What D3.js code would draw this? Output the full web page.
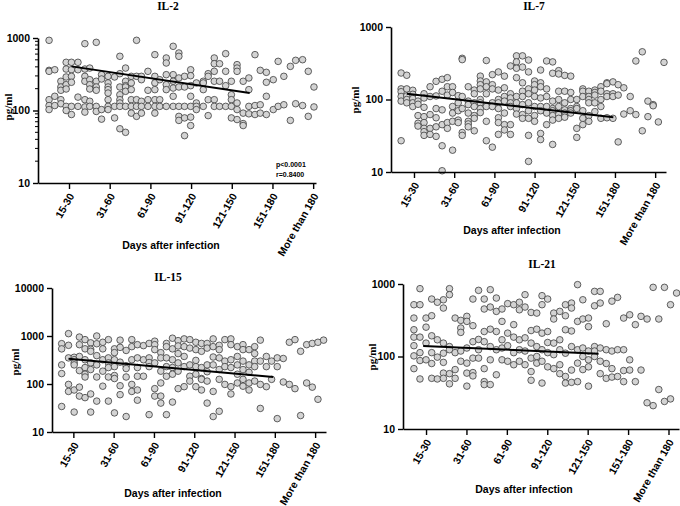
<!DOCTYPE html>
<html><head><meta charset="utf-8">
<script src="https://cdn.jsdelivr.net/npm/d3@7"></script>
<style>body{margin:0;background:#fff}svg{display:block}</style>
</head><body>
<svg id="c" width="680" height="506"></svg>
<script>
const xLabels = ["15-30","31-60","61-90","91-120","121-150","151-180","More than 180"];
const xTickPos = [1,2,3,4,5,6,7];

// [x position (category units), [pg/ml values...]]
const il2Cols = [
[0.51,[929,358,347,141,117,103]],[0.65,[365,157,117]],[0.80,[253,211,190,141,124]],
[0.93,[462,373,290,227,198,114,100]],[1.06,[462,365,296,245,114,88]],[1.22,[462,365,153,114]],
[1.39,[835,373,296,253,141,112,95]],[1.51,[385,266,227,198,134,114]],[1.67,[871,253,211,190,114,97]],
[1.80,[312,272,103,76]],[1.96,[296,240,211,194,174,141,114,103]],[2.12,[290,114,79]],
[2.25,[559,322,211,165,141,127,114,56]],[2.39,[385,253,220,211,184,114,50]],[2.53,[296,240,194,141,114,92]],
[2.66,[929,296,141,114,83]],[2.78,[296,266,134,114,92]],[2.94,[347,190,141,114]],
[3.11,[589,296,240,194,141,114,92]],[3.23,[266,141,114]],[3.39,[530,452,312,227,194,114]],
[3.56,[768,312,253,204,157,114]],[3.70,[621,559,281,211,114,83,73]],[3.84,[296,211,114,79,45]],
[3.99,[365,302,220,157,114,81,62]],[4.13,[240,127,114,103]],[4.30,[253,240,194,114]],
[4.42,[322,296,141,85]],[4.57,[530,442,347,253,141,114]],[4.70,[442,253,114]],
[4.85,[608,347,220,114]],[4.99,[253,165,141,114,79]],[5.13,[429,385,347,127,103,75]],
[5.28,[253,92,66,62]],[5.42,[281,194,114,90]],[5.57,[589,117,88]],[5.70,[358,120,92]],
[5.85,[336,245,157,88]],[6.02,[266,103]],[6.14,[476,114]],[6.28,[296,120]],[6.44,[406,73]],
[6.57,[492,124]],[6.74,[502,117]],[6.88,[347,83]],[7.02,[211,112]]
];
const il7Cols = [
[0.68,[232,140,128,110,95,27]],[0.82,[216,140,112,100,90]],[0.97,[134,118,103,90,80]],
[1.10,[95,86,60,47,43]],[1.25,[120,105,78,58,48,40,36,32]],[1.40,[150,110,62,40,33]],
[1.55,[178,112,75,56,42,31]],[1.70,[190,130,72,45,23,10.4]],[1.83,[200,150,115,48,40]],
[1.96,[150,125,80,65,50,20]],[2.10,[113,90,70,52,48]],[2.20,[370,355,110,75,35,32]],
[2.35,[150,95,85,65,50,46,42]],[2.50,[135,120,90,80,60,55,37]],[2.65,[210,180,160,140,100,90,75,66]],
[2.80,[345,175,150,120,80,50,27]],[2.95,[220,160,140,90,80,22]],[3.10,[240,135,100,90,75,56,48,33]],
[3.25,[210,145,110,95,65,45,38]],[3.40,[290,120,105,90,80,45,33]],[3.55,[400,330,270,200,110,90,75,63]],
[3.70,[400,280,170,130,110,85,62,55]],[3.85,[350,240,140,120,90,70,55,32,14]],[4.00,[180,160,135,110,80,60,50]],
[4.15,[255,170,150,105,80,70,34,28]],[4.30,[340,140,110,80,65,45]],[4.45,[330,230,95,75,70,60,52,24]],
[4.60,[250,225,130,100,80,62,55]],[4.75,[215,130,90,72,65,60,57]],[4.90,[210,125,100,75,70,65]],
[5.05,[100,80,75,40,30]],[5.20,[140,130,110,70,55,45]],[5.35,[130,110,100,90,60,50]],
[5.50,[135,125,115,90,68]],[5.65,[150,130,100,80,55]],[5.80,[170,165,120,110,56]],
[5.95,[175,120,110,55]],[6.08,[160,115,26]],[6.22,[145,63]],[6.38,[110,70]],[6.52,[340,62]],
[6.68,[455,37]],[6.82,[95,58]],[6.95,[85,82]],[7.08,[49]],[7.22,[325]]
];
const il15Cols = [
[0.71,[692,539,250,165,34]],[0.88,[1120,640,350,98,70]],[1.02,[360,320,275,250,75,26]],
[1.15,[950,660,375,190,86,56]],[1.29,[840,540,320,220,160,140,52]],[1.43,[720,530,480,275,200,62,26]],
[1.58,[1000,690,390,250,140,44]],[1.73,[740,540,320,185,90]],[1.87,[840,350,275,220,140,44]],
[2.02,[540,450,320,230,150,130,25]],[2.16,[820,580,285,92,60]],[2.31,[500,240,210,140,21]],
[2.45,[840,600,320,98,70]],[2.59,[660,350,220,145,75,46]],[2.74,[630,320,145]],
[2.88,[700,350,280,230,23]],[3.02,[780,660,520,275,80,56]],[3.17,[450,350,185,105,56,40]],
[3.31,[700,600,350,230,145,23]],[3.46,[900,540,320,220,160,42]],[3.60,[800,620,430,275,185,80]],
[3.75,[870,600,375,230,88]],[3.89,[840,560,250,145,115]],[4.04,[740,520,310,230,160,88]],
[4.18,[700,480,220,130,125,75]],[4.32,[700,560,250,180,115,40]],[4.47,[870,600,365,250,70,21]],
[4.62,[640,520,350,200,125,27]],[4.76,[840,300,230,98]],[4.91,[870,660,320,220,88,62]],
[5.07,[600,375,250,160,105]],[5.21,[660,520,300,200,125,90]],[5.36,[520,250,175,105,75]],
[5.50,[600,430,300,230,115]],[5.64,[820,300,98,31]],[5.79,[375,230,88]],[5.92,[300,125]],
[6.06,[350,230,19]],[6.21,[340,110]],[6.36,[740,98]],[6.50,[840,80]],[6.64,[480,22]],
[6.79,[660,105]],[6.93,[700,86]],[7.07,[740,48]],[7.21,[820]]
];
const il21Cols = [
[0.70,[518,339,234,185,141,102,68]],[0.85,[862,518,185,113,88,49]],[1.00,[339,254,153,90]],
[1.14,[620,365,193,113,80,50]],[1.28,[560,170,98,49]],[1.43,[606,466,153,111,83,59,50]],
[1.58,[862,712,137,124,58,42]],[1.72,[339,113,66,50]],[1.86,[315,247,215,119,86]],
[2.01,[358,305,131,81,59,39]],[2.16,[620,266,160,95,60,54]],[2.30,[817,172,124,95]],
[2.44,[620,452,221,160,68,45,41]],[2.59,[835,481,238,137,90,41]],[2.74,[640,419,221,124,56]],
[2.88,[452,305,170,131,90]],[3.02,[536,210,141,86]],[3.17,[518,275,185,113,77]],
[3.31,[560,441,170,124,86]],[3.45,[712,481,181,119,77]],[3.60,[405,228,153,95,62,47]],
[3.74,[397,238,137,100,81]],[3.87,[690,518,210,124,86,43]],[4.01,[620,221,156,113,72]],
[4.16,[397,329,153,106,68]],[4.31,[419,170,124,77,58]],[4.45,[518,365,234,111,53,43]],
[4.60,[546,466,225,137,65,44]],[4.75,[980,305,124,81,45]],[4.88,[606,329,131,100,66]],
[5.02,[339,258,119,90,72,39]],[5.17,[791,500,137,119,100]],[5.31,[791,546,131,86,58]],
[5.46,[283,124,80,50]],[5.60,[580,119,68,52]],[5.74,[654,124,53]],[5.89,[339,124,64,45]],
[6.04,[376,90,65]],[6.18,[275,45]],[6.32,[358,65]],[6.47,[329,23]],[6.62,[899,21]],
[6.76,[329,35]],[6.90,[899,24]],[7.05,[518,26]],[7.20,[750]]
];

// regression lines: x (category units) and y (pg/ml) at the two ends
const il2TrendX = [1.06,5.44], il2TrendY = [406,174];
const il7TrendX = [0.82,5.96], il7TrendY = [120,57];
const il15TrendX = [0.88,5.96], il15TrendY = [337,140];
const il21TrendX = [0.93,5.27], il21TrendY = [140,109];

const il2Stats = ["p<0.0001","r=0.8400"];

const panels = [
 {title:"IL-2", cols:il2Cols, tx:il2TrendX, ty:il2TrendY, yTicks:[10,100,1000], minor:true, stats:il2Stats,
  box:{l:38,r:316,t:38,b:183}, xDom:[0.238,7.07], yDom:[10,1000], tp:[168,10], yl:[8,107], xl:[171,249]},
 {title:"IL-7", cols:il7Cols, tx:il7TrendX, ty:il7TrendY, yTicks:[10,100,1000], minor:false,
  box:{l:391,r:666,t:27,b:172}, xDom:[0.428,7.27], yDom:[10,1000], tp:[534,10], yl:[355,100], xl:[512,234]},
 {title:"IL-15", cols:il15Cols, tx:il15TrendX, ty:il15TrendY, yTicks:[10,100,1000,10000], minor:false,
  box:{l:52,r:326,t:288,b:432}, xDom:[0.47,7.27], yDom:[10,10000], tp:[168,281], yl:[15,362], xl:[173,497]},
 {title:"IL-21", cols:il21Cols, tx:il21TrendX, ty:il21TrendY, yTicks:[10,100,1000], minor:false,
  box:{l:403,r:679,t:284,b:429}, xDom:[0.43,7.26], yDom:[10,1000], tp:[542,268], yl:[372,357], xl:[524,493]}
];

const SANS = "'Liberation Sans', Arial, sans-serif";
const SERIF = "'Liberation Serif', 'Times New Roman', serif";
const svg = d3.select("#c");

panels.forEach(p => {
  const g = svg.append("g");
  const x = d3.scaleLinear().domain(p.xDom).range([p.box.l, p.box.r]);
  const y = d3.scaleLog().domain(p.yDom).range([p.box.b, p.box.t]);
  const pts = p.cols.flatMap(([xv, ys]) => ys.map(v => [xv, v]));

  g.append("g").selectAll("circle").data(pts).join("circle")
    .attr("cx", d => x(d[0])).attr("cy", d => y(d[1])).attr("r", 3.3)
    .attr("fill", "#d3d3d3").attr("stroke", "#3c3c3c").attr("stroke-width", 0.8);

  g.append("line")
    .attr("x1", x(p.tx[0])).attr("y1", y(p.ty[0]))
    .attr("x2", x(p.tx[1])).attr("y2", y(p.ty[1]))
    .attr("stroke", "#000").attr("stroke-width", 2);

  // x axis
  const xa = g.append("g").attr("transform", `translate(0,${p.box.b})`)
    .call(d3.axisBottom(x).tickValues(xTickPos).tickFormat((d,i) => xLabels[i]).tickSize(6).tickSizeOuter(0));
  xa.select(".domain").attr("stroke-width", 1.6);
  xa.selectAll(".tick line").attr("stroke-width", 1.4);
  xa.selectAll(".tick text")
    .attr("x", 0).attr("y", 0).attr("dy", "0.35em")
    .attr("transform", "translate(2,11) rotate(-60)")
    .attr("text-anchor", "end")
    .attr("font-family", SANS).attr("font-weight", "bold").attr("font-size", 10.5).attr("fill", "#000");

  // y axis
  const ya = g.append("g").attr("transform", `translate(${p.box.l},0)`)
    .call(d3.axisLeft(y).tickValues(p.yTicks).tickFormat(d3.format("d")).tickSize(5).tickSizeOuter(0));
  ya.select(".domain").attr("stroke-width", 1.6);
  ya.selectAll(".tick line").attr("stroke-width", 1.4);
  ya.selectAll(".tick text")
    .attr("font-family", SANS).attr("font-weight", "bold").attr("font-size", 10.5).attr("fill", "#000");

  if (p.minor) {
    const minors = [];
    [10, 100].forEach(b => { for (let k = 2; k <= 9; k++) minors.push(b * k); });
    ya.append("g").selectAll("line").data(minors).join("line")
      .attr("x1", 0).attr("x2", -3).attr("y1", d => y(d)).attr("y2", d => y(d))
      .attr("stroke", "#000").attr("stroke-width", 1);
  }

  // titles
  g.append("text").attr("x", p.tp[0]).attr("y", p.tp[1]).attr("text-anchor", "middle")
    .attr("font-family", SERIF).attr("font-weight", "bold").attr("font-size", 11.5).text(p.title);
  g.append("text").attr("transform", `translate(${p.yl[0]},${p.yl[1]}) rotate(-90)`)
    .attr("text-anchor", "middle").attr("dy", "0.35em")
    .attr("font-family", SERIF).attr("font-weight", "bold").attr("font-size", 11).text("pg/ml");
  g.append("text").attr("x", p.xl[0]).attr("y", p.xl[1]).attr("text-anchor", "middle")
    .attr("font-family", SANS).attr("font-weight", "bold").attr("font-size", 10.5).text("Days after infection");

  if (p.stats) {
    p.stats.forEach((s, i) => {
      g.append("text").attr("x", 276).attr("y", 167 + i * 10)
        .attr("font-family", SANS).attr("font-weight", "bold").attr("font-size", 7).text(s);
    });
  }
});
</script>
</body></html>
